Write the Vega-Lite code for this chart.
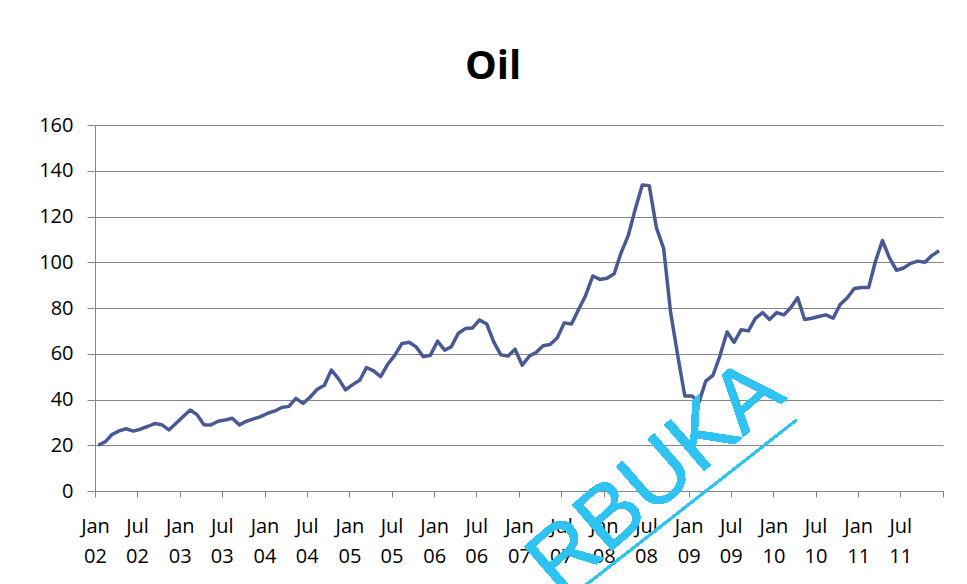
{
  "$schema": "https://vega.github.io/schema/vega-lite/v6.json",
  "width": 848,
  "height": 366,
  "autosize": {"type": "none"},
  "padding": {"left": 95, "top": 125, "right": 24, "bottom": 93},
  "background": "white",
  "title": {
    "text": "Oil",
    "font": "Open Sans",
    "fontSize": 40,
    "fontWeight": "bold",
    "color": "#000000",
    "anchor": "middle",
    "dx": -26,
    "offset": 28
  },
  "config": {
    "view": {"stroke": null},
    "axis": {
      "labelFont": "Open Sans",
      "labelFontSize": 20,
      "labelColor": "#000000",
      "domainColor": "#868686",
      "tickColor": "#868686",
      "gridColor": "#868686",
      "gridWidth": 1,
      "domainWidth": 1,
      "tickWidth": 1
    }
  },
  "data": {
    "values": [
      {"date": "2002-01-15", "oil": 20},
      {"date": "2002-02-15", "oil": 21.6},
      {"date": "2002-03-15", "oil": 24.7},
      {"date": "2002-04-15", "oil": 26.3},
      {"date": "2002-05-15", "oil": 27.2},
      {"date": "2002-06-15", "oil": 26.2},
      {"date": "2002-07-15", "oil": 27},
      {"date": "2002-08-15", "oil": 28.2},
      {"date": "2002-09-15", "oil": 29.5},
      {"date": "2002-10-15", "oil": 29},
      {"date": "2002-11-15", "oil": 26.7},
      {"date": "2002-12-15", "oil": 29.5},
      {"date": "2003-01-15", "oil": 32.5},
      {"date": "2003-02-15", "oil": 35.4},
      {"date": "2003-03-15", "oil": 33.5},
      {"date": "2003-04-15", "oil": 29},
      {"date": "2003-05-15", "oil": 28.9},
      {"date": "2003-06-15", "oil": 30.5},
      {"date": "2003-07-15", "oil": 31},
      {"date": "2003-08-15", "oil": 31.8},
      {"date": "2003-09-15", "oil": 28.9},
      {"date": "2003-10-15", "oil": 30.5},
      {"date": "2003-11-15", "oil": 31.5},
      {"date": "2003-12-15", "oil": 32.5},
      {"date": "2004-01-15", "oil": 34},
      {"date": "2004-02-15", "oil": 35},
      {"date": "2004-03-15", "oil": 36.5},
      {"date": "2004-04-15", "oil": 37},
      {"date": "2004-05-15", "oil": 40.5},
      {"date": "2004-06-15", "oil": 38.3},
      {"date": "2004-07-15", "oil": 41},
      {"date": "2004-08-15", "oil": 44.5},
      {"date": "2004-09-15", "oil": 46.2},
      {"date": "2004-10-15", "oil": 52.9},
      {"date": "2004-11-15", "oil": 49},
      {"date": "2004-12-15", "oil": 44.2},
      {"date": "2005-01-15", "oil": 46.5},
      {"date": "2005-02-15", "oil": 48.5},
      {"date": "2005-03-15", "oil": 54},
      {"date": "2005-04-15", "oil": 52.5},
      {"date": "2005-05-15", "oil": 50},
      {"date": "2005-06-15", "oil": 55.5},
      {"date": "2005-07-15", "oil": 59.3},
      {"date": "2005-08-15", "oil": 64.5},
      {"date": "2005-09-15", "oil": 65},
      {"date": "2005-10-15", "oil": 63},
      {"date": "2005-11-15", "oil": 58.7},
      {"date": "2005-12-15", "oil": 59.3},
      {"date": "2006-01-15", "oil": 65.5},
      {"date": "2006-02-15", "oil": 61.6},
      {"date": "2006-03-15", "oil": 63},
      {"date": "2006-04-15", "oil": 69},
      {"date": "2006-05-15", "oil": 71},
      {"date": "2006-06-15", "oil": 71.3},
      {"date": "2006-07-15", "oil": 74.8},
      {"date": "2006-08-15", "oil": 73},
      {"date": "2006-09-15", "oil": 65},
      {"date": "2006-10-15", "oil": 59.5},
      {"date": "2006-11-15", "oil": 59},
      {"date": "2006-12-15", "oil": 62},
      {"date": "2007-01-15", "oil": 55},
      {"date": "2007-02-15", "oil": 59},
      {"date": "2007-03-15", "oil": 60.5},
      {"date": "2007-04-15", "oil": 63.5},
      {"date": "2007-05-15", "oil": 64},
      {"date": "2007-06-15", "oil": 67},
      {"date": "2007-07-15", "oil": 73.5},
      {"date": "2007-08-15", "oil": 73},
      {"date": "2007-09-15", "oil": 79.5},
      {"date": "2007-10-15", "oil": 85.5},
      {"date": "2007-11-15", "oil": 94},
      {"date": "2007-12-15", "oil": 92.5},
      {"date": "2008-01-15", "oil": 93},
      {"date": "2008-02-15", "oil": 95},
      {"date": "2008-03-15", "oil": 104},
      {"date": "2008-04-15", "oil": 111.5},
      {"date": "2008-05-15", "oil": 123},
      {"date": "2008-06-15", "oil": 133.8},
      {"date": "2008-07-15", "oil": 133.5},
      {"date": "2008-08-15", "oil": 115},
      {"date": "2008-09-15", "oil": 106},
      {"date": "2008-10-15", "oil": 78},
      {"date": "2008-11-15", "oil": 59},
      {"date": "2008-12-15", "oil": 41.5},
      {"date": "2009-01-15", "oil": 41.5},
      {"date": "2009-02-15", "oil": 39},
      {"date": "2009-03-15", "oil": 48},
      {"date": "2009-04-15", "oil": 50.5},
      {"date": "2009-05-15", "oil": 59},
      {"date": "2009-06-15", "oil": 69.5},
      {"date": "2009-07-15", "oil": 65},
      {"date": "2009-08-15", "oil": 70.5},
      {"date": "2009-09-15", "oil": 70},
      {"date": "2009-10-15", "oil": 75.5},
      {"date": "2009-11-15", "oil": 78},
      {"date": "2009-12-15", "oil": 75},
      {"date": "2010-01-15", "oil": 78},
      {"date": "2010-02-15", "oil": 77},
      {"date": "2010-03-15", "oil": 80},
      {"date": "2010-04-15", "oil": 84.5},
      {"date": "2010-05-15", "oil": 75},
      {"date": "2010-06-15", "oil": 75.5},
      {"date": "2010-07-15", "oil": 76.3},
      {"date": "2010-08-15", "oil": 77},
      {"date": "2010-09-15", "oil": 75.5},
      {"date": "2010-10-15", "oil": 81.5},
      {"date": "2010-11-15", "oil": 84.5},
      {"date": "2010-12-15", "oil": 88.5},
      {"date": "2011-01-15", "oil": 89},
      {"date": "2011-02-15", "oil": 89},
      {"date": "2011-03-15", "oil": 100},
      {"date": "2011-04-15", "oil": 109.5},
      {"date": "2011-05-15", "oil": 102},
      {"date": "2011-06-15", "oil": 96.5},
      {"date": "2011-07-15", "oil": 97.5},
      {"date": "2011-08-15", "oil": 99.5},
      {"date": "2011-09-15", "oil": 100.5},
      {"date": "2011-10-15", "oil": 100},
      {"date": "2011-11-15", "oil": 103},
      {"date": "2011-12-15", "oil": 105}
    ]
  },
  "layer": [
    {
      "mark": {"type": "line", "color": "#4a5993", "strokeWidth": 3.5, "strokeJoin": "round"},
      "encoding": {
        "x": {
          "field": "date",
          "type": "temporal",
          "scale": {
            "type": "utc",
            "domain": [
              {"year": 2002, "month": 1, "date": 1, "utc": true},
              {"year": 2012, "month": 1, "date": 1, "utc": true}
            ]
          },
          "axis": {
            "title": null,
            "grid": false,
            "values": [
              {"year": 2002, "month": 1, "date": 1, "utc": true},
              {"year": 2002, "month": 7, "date": 1, "utc": true},
              {"year": 2003, "month": 1, "date": 1, "utc": true},
              {"year": 2003, "month": 7, "date": 1, "utc": true},
              {"year": 2004, "month": 1, "date": 1, "utc": true},
              {"year": 2004, "month": 7, "date": 1, "utc": true},
              {"year": 2005, "month": 1, "date": 1, "utc": true},
              {"year": 2005, "month": 7, "date": 1, "utc": true},
              {"year": 2006, "month": 1, "date": 1, "utc": true},
              {"year": 2006, "month": 7, "date": 1, "utc": true},
              {"year": 2007, "month": 1, "date": 1, "utc": true},
              {"year": 2007, "month": 7, "date": 1, "utc": true},
              {"year": 2008, "month": 1, "date": 1, "utc": true},
              {"year": 2008, "month": 7, "date": 1, "utc": true},
              {"year": 2009, "month": 1, "date": 1, "utc": true},
              {"year": 2009, "month": 7, "date": 1, "utc": true},
              {"year": 2010, "month": 1, "date": 1, "utc": true},
              {"year": 2010, "month": 7, "date": 1, "utc": true},
              {"year": 2011, "month": 1, "date": 1, "utc": true},
              {"year": 2011, "month": 7, "date": 1, "utc": true},
              {"year": 2012, "month": 1, "date": 1, "utc": true}
            ],
            "labelExpr": "utcyear(datum.value) >= 2012 ? '' : [utcFormat(datum.value, '%b'), utcFormat(datum.value, '%y')]",
            "labelBaseline": "top",
            "labelLineHeight": 30,
            "labelPadding": 19,
            "labelFlush": false,
            "labelOverlap": false,
            "tickSize": 6
          }
        },
        "y": {
          "field": "oil",
          "type": "quantitative",
          "scale": {"domain": [0, 160], "nice": false, "zero": true},
          "axis": {
            "title": null,
            "values": [0, 20, 40, 60, 80, 100, 120, 140, 160],
            "tickSize": 8,
            "labelPadding": 14,
            "grid": true
          }
        }
      }
    },
    {
      "mark": {"type": "rule", "color": "#2fc3f3", "strokeWidth": 2},
      "encoding": {
        "x": {"datum": {"year": 2007, "month": 7, "date": 25, "utc": true}, "type": "temporal"},
        "x2": {"datum": {"year": 2010, "month": 4, "date": 10, "utc": true}},
        "y": {"datum": -47.7, "type": "quantitative"},
        "y2": {"datum": 31}
      }
    },
    {
      "mark": {
        "type": "text",
        "text": "RBUKA",
        "font": "Liberation Sans",
        "fontSize": 88,
        "angle": -41,
        "align": "center",
        "baseline": "middle",
        "color": "#2fc3f3"
      },
      "encoding": {
        "x": {"datum": {"year": 2008, "month": 8, "date": 13, "utc": true}, "type": "temporal"},
        "y": {"datum": 5.7, "type": "quantitative"}
      }
    }
  ]
}
